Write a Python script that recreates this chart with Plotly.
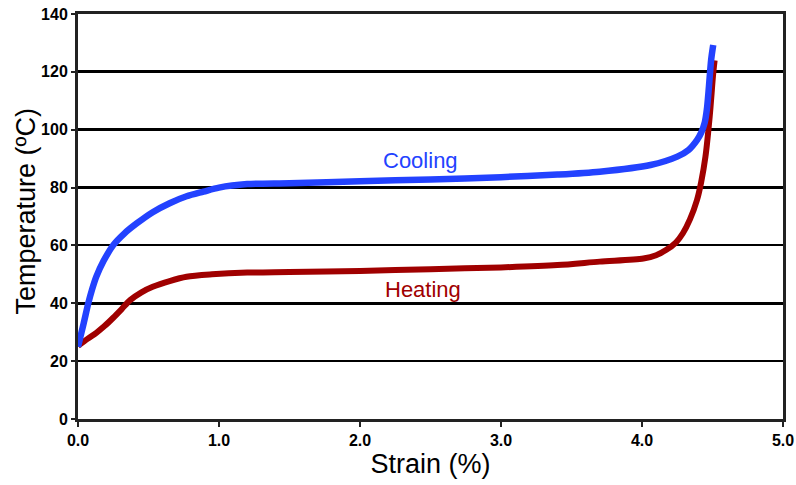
import plotly.graph_objects as go

cool_x = [0.0, 0.04, 0.073, 0.1, 0.13, 0.18, 0.25, 0.33, 0.416, 0.53, 0.65, 0.77, 0.89, 1.0, 1.2, 1.5, 2.0, 2.5, 3.0, 3.4, 3.7, 4.06, 4.25, 4.33, 4.39, 4.42, 4.445, 4.46, 4.475, 4.49, 4.505]
cool_y = [25.0, 33.0, 40.0, 44.8, 49.2, 54.5, 60.1, 64.2, 67.6, 71.5, 74.6, 77.0, 78.6, 80.0, 81.2, 81.5, 82.2, 82.8, 83.6, 84.5, 85.5, 87.8, 90.7, 93.0, 96.4, 99.0, 102.5, 107.0, 115.0, 124.0, 129.3]

heat_x = [0.0, 0.07, 0.13, 0.19, 0.25, 0.31, 0.37, 0.45, 0.53, 0.65, 0.77, 0.95, 1.2, 1.5, 2.0, 2.5, 3.0, 3.4, 3.7, 4.01, 4.1, 4.17, 4.24, 4.29, 4.34, 4.39, 4.42, 4.45, 4.48, 4.505, 4.515]
heat_y = [25.3, 27.8, 29.8, 32.2, 35.0, 38.0, 41.1, 43.8, 45.7, 47.7, 49.2, 50.0, 50.6, 50.8, 51.2, 51.8, 52.4, 53.2, 54.4, 55.5, 56.6, 58.4, 61.0, 64.2, 69.0, 75.7, 82.0, 90.7, 104.5, 119.5, 124.0]

y_ticks = [0, 20, 40, 60, 80, 100, 120, 140]
y_major = [40, 80, 100, 120]
x_ticks = [0.0, 1.0, 2.0, 3.0, 4.0, 5.0]
x_labels = ["0.0", "1.0", "2.0", "3.0", "4.0", "5.0"]

FONT = "Liberation Sans, Arial, sans-serif"
BLUE = "#2342ff"
RED = "#a00000"

fig = go.Figure()
fig.add_trace(go.Scatter(x=[None], y=[None], yaxis="y2", showlegend=False, hoverinfo="skip"))
fig.add_trace(go.Scatter(x=heat_x, y=heat_y, mode="lines",
                         line=dict(color=RED, width=6, shape="spline", smoothing=0.8),
                         hoverinfo="skip", showlegend=False))
fig.add_trace(go.Scatter(x=cool_x, y=cool_y, mode="lines",
                         line=dict(color=BLUE, width=6.5, shape="spline", smoothing=0.8),
                         hoverinfo="skip", showlegend=False))

fig.add_annotation(x=2.43, y=89.3, text="Cooling", showarrow=False,
                   font=dict(family=FONT, size=22, color=BLUE))
fig.add_annotation(x=2.45, y=44.7, text="Heating", showarrow=False,
                   font=dict(family=FONT, size=22, color=RED))
fig.add_annotation(xref="paper", yref="paper", x=0, y=0.5, xshift=-53, yshift=5,
                   xanchor="center", yanchor="middle", textangle=-90,
                   text="Temperature (ºC)", showarrow=False,
                   font=dict(family=FONT, size=27, color="black"))

fig.update_layout(
    width=796, height=485,
    margin=dict(l=78, r=13, t=14, b=66, autoexpand=False),
    paper_bgcolor="white", plot_bgcolor="white",
    font=dict(family=FONT, color="black"),
    xaxis=dict(range=[0, 5], tickvals=x_ticks, ticktext=x_labels, automargin=False,
               showgrid=False, zeroline=False,
               showline=True, linecolor="#222", linewidth=3, mirror=True,
               ticks="outside", ticklen=5, tickwidth=2, tickcolor="#222",
               tickfont=dict(size=16, family=FONT, color="black", weight="bold"),
               title=dict(text="Strain (%)", font=dict(size=27, family=FONT), standoff=6)),
    yaxis=dict(range=[0, 140], tickvals=y_ticks, automargin=False,
               showgrid=True, gridcolor="black", gridwidth=1.6, zeroline=False,
               showline=True, linecolor="#222", linewidth=3, mirror=True,
               ticks="outside", ticklen=4, tickwidth=2, tickcolor="#222",
               tickfont=dict(size=16, family=FONT, color="black", weight="bold")),
    yaxis2=dict(range=[0, 140], tickvals=y_major, overlaying="y", automargin=False,
                showgrid=True, gridcolor="black", gridwidth=2.8,
                showticklabels=False, zeroline=False, showline=False, layer="below traces"),
)

fig.write_html("out.html", config={"displayModeBar": False},
               post_script="document.body.style.margin='0';document.body.style.overflow='hidden';")
